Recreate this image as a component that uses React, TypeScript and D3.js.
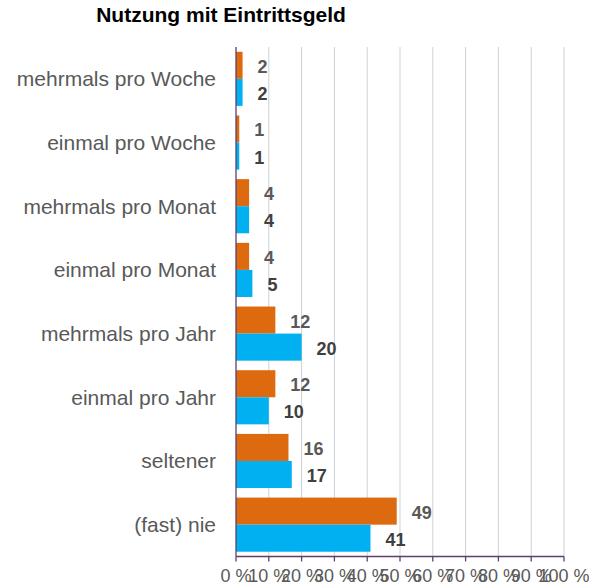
import React from 'react';
import * as d3 from 'd3';

const categories = [
  'mehrmals pro Woche',
  'einmal pro Woche',
  'mehrmals pro Monat',
  'einmal pro Monat',
  'mehrmals pro Jahr',
  'einmal pro Jahr',
  'seltener',
  '(fast) nie',
];
const orangeValues = [2, 1, 4, 4, 12, 12, 16, 49];
const blueValues = [2, 1, 4, 5, 20, 10, 17, 41];
const xTicks = [0, 10, 20, 30, 40, 50, 60, 70, 80, 90, 100];

const W = 589;
const H = 584;
const left = 236;
const right = 564;
const top = 47;
const bottom = 556.5;

const App = () => {
  const x = d3.scaleLinear().domain([0, 100]).range([left, right]);
  const y = d3.scaleBand().domain(categories).range([top, bottom]).paddingInner(0.15).paddingOuter(0.075);
  const sub = d3.scaleBand().domain(['o', 'b']).range([0, y.bandwidth()]);
  const font = 'Liberation Sans, Arial, sans-serif';

  return (
    <svg width={W} height={H} style={{ position: 'absolute', left: 0, top: 0 }} fontFamily={font}>
      <rect width={W} height={H} fill="#fff" />
      <text x={221} y={21.5} textAnchor="middle" fontSize={21} fontWeight="bold" fill="#000">
        Nutzung mit Eintrittsgeld
      </text>
      {xTicks.slice(1).map((t) => (
        <line key={t} x1={x(t)} x2={x(t)} y1={top} y2={bottom} stroke="#cdd1d6" strokeWidth={1} />
      ))}
      {categories.map((c, i) => {
        const y0 = y(c) as number;
        const ov = orangeValues[i];
        const bv = blueValues[i];
        return (
          <g key={c}>
            <text x={216} y={y0 + y.bandwidth() / 2 + 7.5} textAnchor="end" fontSize={21} fill="#595959">
              {c}
            </text>
            <rect x={x(0)} y={y0 + (sub('o') as number)} width={x(ov) - x(0)} height={sub.bandwidth()} fill="#DE6A10" />
            <rect x={x(0)} y={y0 + (sub('b') as number)} width={x(bv) - x(0)} height={sub.bandwidth()} fill="#00B0F0" />
            <text x={x(ov) + 15} y={y0 + (sub('o') as number) + sub.bandwidth() / 2 + 7.5} fontSize={18} fontWeight="bold" fill="#595959">
              {ov}
            </text>
            <text x={x(bv) + 15} y={y0 + (sub('b') as number) + sub.bandwidth() / 2 + 7.5} fontSize={18} fontWeight="bold" fill="#404040">
              {bv}
            </text>
          </g>
        );
      })}
      <line x1={left} x2={left} y1={top} y2={bottom} stroke="#5b3f6e" strokeWidth={1.3} />
      <line x1={left} x2={right} y1={bottom} y2={bottom} stroke="#5b3f6e" strokeWidth={1.3} />
      {xTicks.map((t) => (
        <g key={t}>
          <line x1={x(t)} x2={x(t)} y1={bottom} y2={bottom + 5} stroke="#5b3f6e" strokeWidth={1.3} />
          <text x={x(t)} y={bottom + 25} textAnchor="middle" fontSize={18} fill="#595959">
            {t} %
          </text>
        </g>
      ))}
    </svg>
  );
};

export default App;
